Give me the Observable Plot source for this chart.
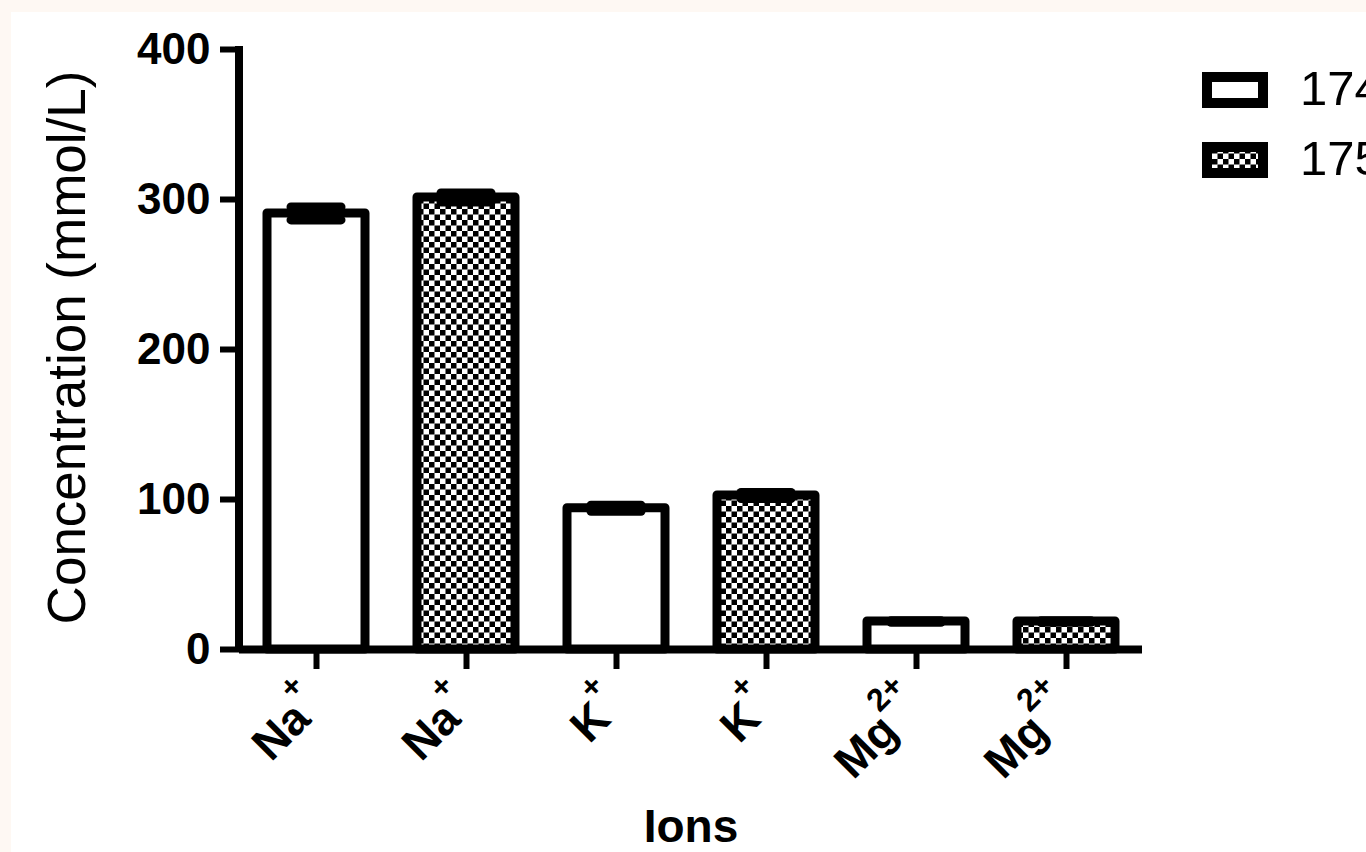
<!DOCTYPE html>
<html><head><meta charset="utf-8">
<script src="https://cdn.jsdelivr.net/npm/d3@7"></script>
<script src="https://cdn.jsdelivr.net/npm/@observablehq/plot@0.6"></script>
<style>
html,body{margin:0;padding:0;width:1366px;height:852px;overflow:hidden;background:#fef8f3;font-family:"Liberation Sans",Arial,sans-serif;}
#panel{position:absolute;left:11px;top:12px;right:0;bottom:0;background:#fff;}
#chart{position:absolute;left:0;top:0;}
#legend{position:absolute;left:1190px;top:60px;}
</style></head><body>
<div id="panel"></div>
<div id="chart"></div>
<div id="legend"></div>
<script>
// ---- data ----
const ions = ["Na", "K", "Mg"];
const charges = ["+", "+", "2+"];
const groups = ["174", "175"];
const mean174 = [290.7, 94.2, 18.7];
const mean175 = [301.3, 102.7, 18.7];
const sd174 = [4.3, 2, 0.5];
const sd175 = [3, 2, 0.5];
const yTicks = [0, 100, 200, 300, 400];
const yLabel = "Concentration (mmol/L)";
const xLabel = "Ions";

const means = {"174": mean174, "175": mean175};
const sds = {"174": sd174, "175": sd175};
const rows = [];
ions.forEach((ion, i) => groups.forEach(g => rows.push({
  key: ion + "|" + g, ion, charge: charges[i], group: g, mean: means[g][i], sd: sds[g][i]
})));
const keys = rows.map(d => d.key);

const FONT = "'Liberation Sans', Arial, sans-serif";
const tickFont = 44, xFont = 46;

const yAxisLine = (index, scales, values, dims) =>
  d3.create("svg:line")
    .attr("x1", dims.marginLeft).attr("x2", dims.marginLeft)
    .attr("y1", scales.y(yTicks[yTicks.length - 1]) - 3).attr("y2", scales.y(0) + 3)
    .attr("stroke", "black").attr("stroke-width", 8).node();

const barOpts = {x: "key", y: "mean", stroke: "black", strokeWidth: 9, strokeLinejoin: "round"};
const capOpts = {x: "key", stroke: "black", strokeWidth: 9, strokeLinecap: "round", insetLeft: 24, insetRight: 24};

const svg = Plot.plot({
  width: 1366, height: 852,
  marginLeft: 239, marginRight: 224, marginTop: 49, marginBottom: 203,
  style: {background: "transparent", fontFamily: FONT, color: "black", overflow: "visible"},
  x: {domain: keys, paddingInner: 0.35, paddingOuter: 0.175, label: null, axis: null},
  y: {domain: [0, 400], label: null, axis: null},
  marks: [
    Plot.barY(rows.filter(d => d.group === groups[0]), {...barOpts, fill: "white"}),
    Plot.barY(rows.filter(d => d.group === groups[1]), {...barOpts, fill: "url(#checker)"}),
    Plot.ruleX(rows, {x: "key", y1: d => d.mean - d.sd, y2: d => d.mean + d.sd, stroke: "black", strokeWidth: 8}),
    Plot.tickY(rows, {...capOpts, y: d => d.mean + d.sd}),
    Plot.tickY(rows, {...capOpts, y: d => d.mean - d.sd}),
    Plot.ruleY([0], {stroke: "black", strokeWidth: 8}),
    yAxisLine,
    Plot.axisY({ticks: yTicks, tickSize: 19, tickPadding: 10, fontSize: tickFont, fontWeight: "bold", strokeWidth: 6, label: null}),
    Plot.axisX({tickSize: 20, strokeWidth: 6, tickFormat: () => "", label: null}),
    Plot.text(rows, {x: "key", text: "ion", frameAnchor: "bottom", rotate: -45, textAnchor: "end", lineAnchor: "middle",
      dx: -1, dy: 48, fontSize: xFont, fontWeight: "bold"}),
    Plot.text([xLabel], {frameAnchor: "bottom", textAnchor: "middle", lineAnchor: "middle", dy: 178, fontSize: 46, fontWeight: "bold"}),
    Plot.text([yLabel], {frameAnchor: "left", rotate: -90, textAnchor: "middle", lineAnchor: "middle", dx: -171, dy: -2, fontSize: 53})
  ]
});

// pattern
const defs = d3.select(svg).insert("defs", ":first-child");
const pat = defs.append("pattern").attr("id", "checker").attr("patternUnits", "userSpaceOnUse")
  .attr("width", 11).attr("height", 11);
pat.append("rect").attr("width", 11).attr("height", 11).attr("fill", "white");
pat.append("rect").attr("width", 5.5).attr("height", 5.5).attr("fill", "black");
pat.append("rect").attr("x", 5.5).attr("y", 5.5).attr("width", 5.5).attr("height", 5.5).attr("fill", "black");

// superscript charges on the x labels (first text mark)
d3.select(svg).select('g[aria-label="text"]').selectAll("text").each(function(_, i) {
  const r = rows[i];
  const t = d3.select(this);
  t.text(null);
  t.append("tspan").text(r.ion);
  t.append("tspan").attr("font-size", Math.round(xFont * 0.7)).attr("dy", -Math.round(xFont * 0.62)).text(r.charge);
});

document.getElementById("chart").appendChild(svg);

// legend
const leg = d3.select("#legend").append("svg").attr("width", 176).attr("height", 140)
  .style("overflow", "visible");
groups.forEach((g, i) => {
  const gy = i * 70;
  leg.append("rect").attr("x", 17).attr("y", 17 + gy).attr("width", 56).attr("height", 26)
    .attr("fill", i === 0 ? "white" : "url(#checker)").attr("stroke", "black").attr("stroke-width", 10);
  leg.append("text").attr("x", 110).attr("y", 45 + gy).attr("font-family", FONT).attr("font-size", 49)
    .attr("fill", "black").text(g);
});
</script>
</body></html>
